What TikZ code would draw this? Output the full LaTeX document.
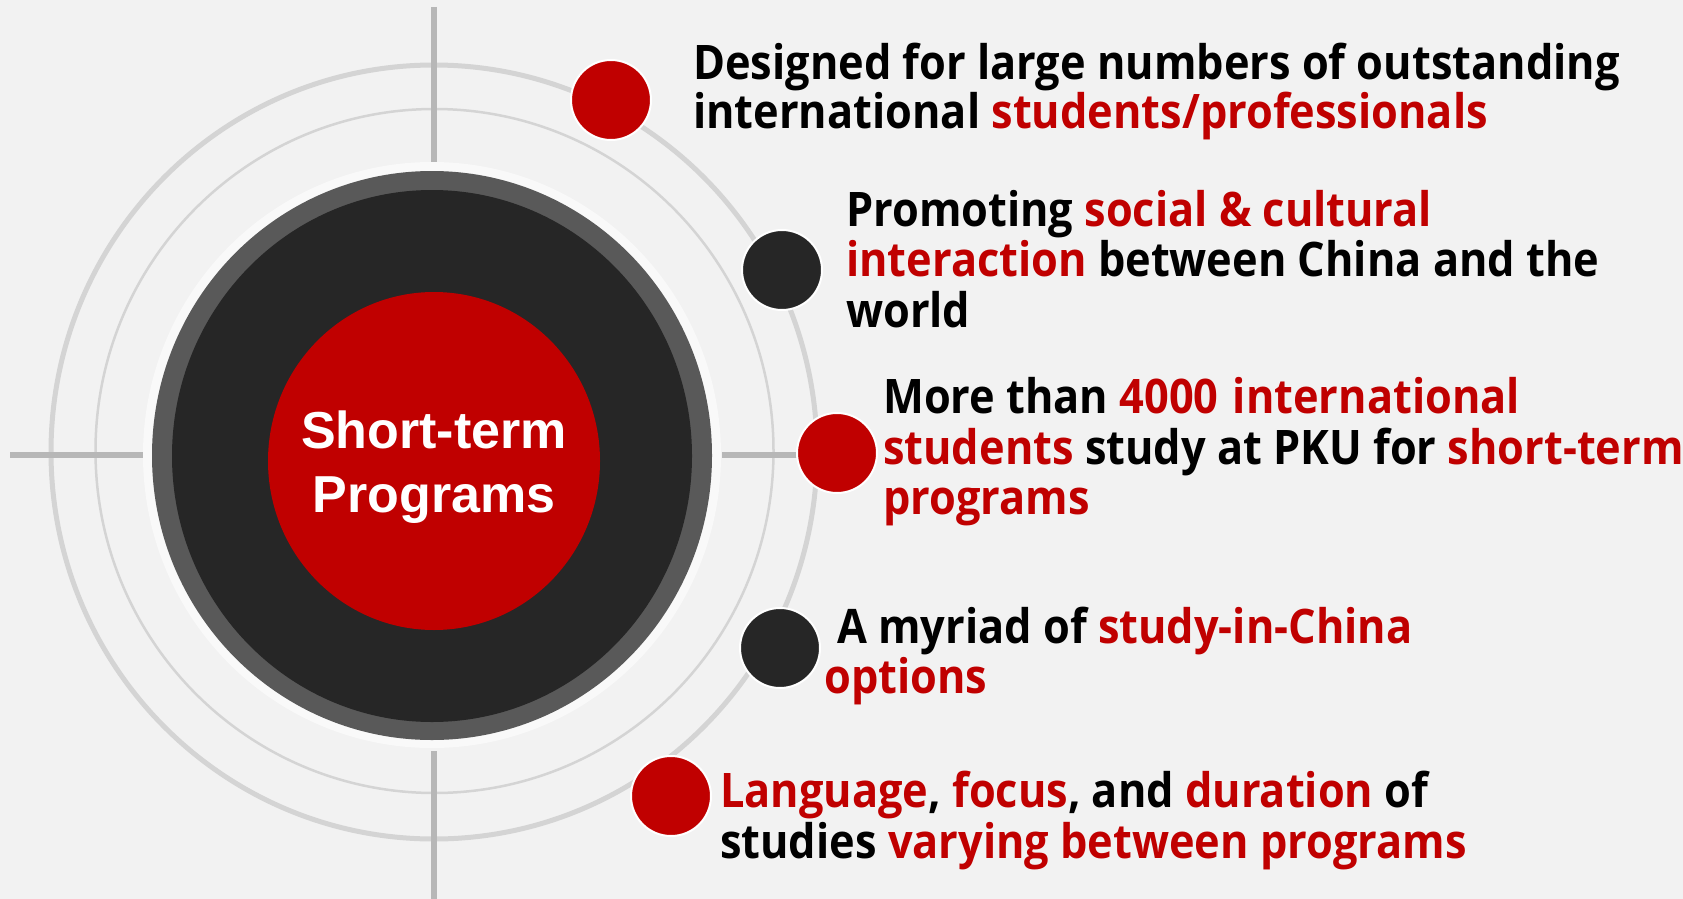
\documentclass[tikz,border=0pt]{standalone}
\usepackage{fontspec}
\newfontfamily\bodyfont{Open Sans}[FakeStretch=0.91]
\newfontfamily\centerfont{Liberation Sans}
\definecolor{bg}{HTML}{F2F2F2}
\definecolor{ring}{HTML}{D4D4D4}
\definecolor{cross}{HTML}{B7B7B7}
\definecolor{pkured}{HTML}{C00000}
\definecolor{dgray}{HTML}{595959}
\definecolor{nearblack}{HTML}{262626}
\definecolor{halo}{HTML}{F9F9F9}
\tikzset{
  txt/.style={anchor=base west, inner sep=0pt, font=\bodyfont\bfseries\fontsize{47.6}{50}\selectfont, text=black},
  reddot/.style={circle, fill=pkured, draw=white, line width=2pt, minimum size=80pt, inner sep=0pt},
  blackdot/.style={circle, fill=nearblack, draw=white, line width=2pt, minimum size=80pt, inner sep=0pt},
  crossline/.style={draw=cross, line width=6pt},
}
\newcommand{\rd}[1]{\textcolor{pkured}{#1}}
\begin{document}
\begin{tikzpicture}[x=1pt,y=-1pt]
\fill[bg] (0,0) rectangle (1683,899);
\useasboundingbox (0,0) rectangle (1683,899);
% rings
\draw[ring, line width=5pt] (434,452) ellipse [x radius=383, y radius=387];
\draw[ring, line width=2.5pt] (434.5,451) ellipse [x radius=339, y radius=342];
% cross lines
\coordinate (vt1) at (434,7);
\coordinate (vt2) at (434,162);
\coordinate (vb1) at (434,751);
\coordinate (vb2) at (434,899);
\coordinate (hl1) at (10,455);
\coordinate (hl2) at (143,455);
\coordinate (hr1) at (722,455);
\coordinate (hr2) at (800,455);
\draw[crossline] (vt1) -- (vt2);
\draw[crossline] (vb1) -- (vb2);
\draw[crossline] (hl1) -- (hl2);
\draw[crossline] (hr1) -- (hr2);
% central disc
\fill[halo] (432,455) ellipse [x radius=289, y radius=293];
\fill[dgray] (432,455.5) ellipse [x radius=280, y radius=284.5];
\fill[nearblack] (432,456) ellipse [x radius=260, y radius=266];
\fill[pkured] (434,461) ellipse [x radius=166, y radius=169];
\node[align=center, text=white, font=\centerfont\bfseries\fontsize{52}{64}\selectfont, inner sep=0pt] (center) at (434,467) {Short-term\\Programs};
% dots
\node[reddot] (d1) at (611,100) {};
\node[blackdot] (d2) at (782,270) {};
\node[reddot] (d3) at (837,453) {};
\node[blackdot] (d4) at (780,648) {};
\node[reddot] (d5) at (671,796) {};
% texts
\node[txt] (t1a) at (693,79) {Designed for large numbers of outstanding};
\node[txt] (t1b) at (693,128) {international \rd{students/professionals}};
\node[txt] (t2a) at (846,226) {Promoting \rd{social \& cultural}};
\node[txt] (t2b) at (846,276.5) {\rd{interaction} between China and the};
\node[txt] (t2c) at (846,327) {world};
\node[txt] (t3a) at (883,413.5) {More than \rd{4000\hspace{0.3em}international}};
\node[txt] (t3b) at (883,464) {\rd{students} study at PKU for \rd{short-term}};
\node[txt] (t3c) at (883,514.5) {\rd{programs}};
\node[txt] (t4a) at (837,643) {A myriad of \rd{study-in-China}};
\node[txt] (t4b) at (824,693) {\rd{options}};
\node[txt] (t5a) at (720,807) {\rd{Language}, \rd{focus}, and \rd{duration} of};
\node[txt] (t5b) at (720,858) {studies \rd{varying between programs}};
\end{tikzpicture}
\end{document}
